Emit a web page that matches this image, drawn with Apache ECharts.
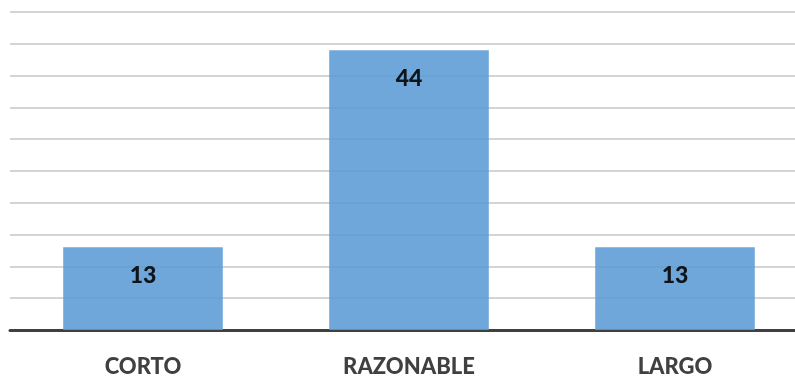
<!DOCTYPE html>
<html><head><meta charset="utf-8">
<script src="https://cdn.jsdelivr.net/npm/echarts@6/dist/echarts.min.js"></script>
<style>html,body{margin:0;padding:0;background:#fff;overflow:hidden;width:795px;height:378px}#c{width:812px;height:378px}</style>
</head><body><div id="c"></div>
<script>
var categories = ['CORTO', 'RAZONABLE', 'LARGO'];
var values = [13, 44, 13];

var chart = echarts.init(document.getElementById('c'));
chart.setOption({
  animation: false,
  grid: {left: 10, right: 4, top: 12, bottom: 47, containLabel: false},
  xAxis: {
    type: 'category', data: categories,
    axisTick: {show: false},
    axisLine: {lineStyle: {color: '#404040', width: 3}},
    axisLabel: {color: '#404040', fontFamily: 'Lato', fontWeight: 900, fontSize: 22, margin: 26}
  },
  yAxis: {
    type: 'value', min: 0, max: 50, interval: 5,
    axisLabel: {show: false}, axisLine: {show: false}, axisTick: {show: false},
    splitLine: {lineStyle: {color: '#d4d4d4', width: 2}}
  },
  series: [{
    type: 'bar', data: values, barWidth: '60%',
    itemStyle: {color: '#5b9bd5', opacity: 0.88},
    label: {show: true, position: 'insideTop', distance: 17, color: '#000',
      fontFamily: 'Lato', fontWeight: 900, fontSize: 23}
  }]
});
</script></body></html>
